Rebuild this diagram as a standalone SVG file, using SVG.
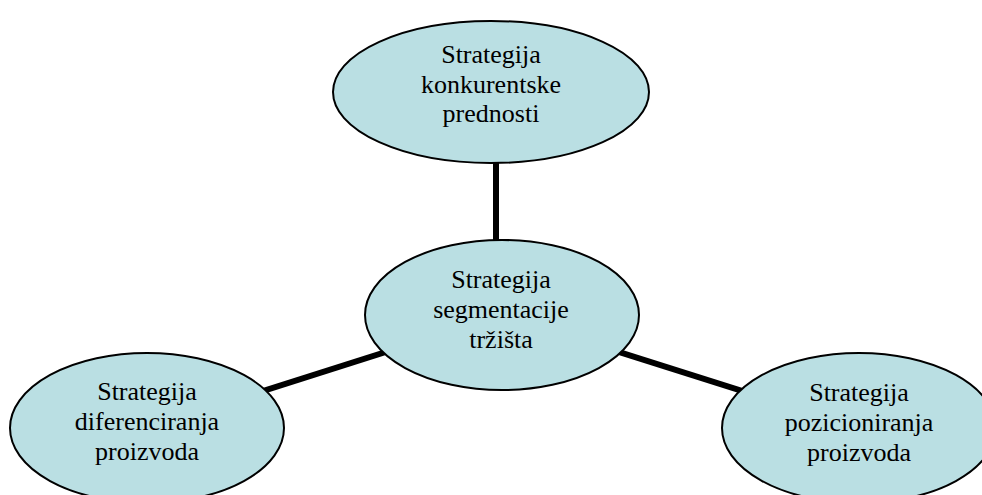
<svg xmlns="http://www.w3.org/2000/svg" width="982" height="495" viewBox="0 0 982 495">
<style>
.n{fill:#BADFE3;stroke:#000;stroke-width:2}
.c{stroke:#000;stroke-width:6;fill:none}
text{font-family:"Liberation Serif","Times New Roman",serif;font-size:26px;fill:#000;text-anchor:middle}
</style>
<rect width="982" height="495" fill="#fff"/>
<g id="connectors">
<line class="c" x1="496" y1="150" x2="496" y2="250"/>
<line class="c" x1="147" y1="428" x2="502" y2="315"/>
<line class="c" x1="502" y1="315" x2="859" y2="428"/>
</g>
<g id="node-top">
<ellipse class="n" cx="491" cy="92" rx="158" ry="71"/>
<text x="491" y="63">Strategija</text>
<text x="491" y="93">konkurentske</text>
<text x="491" y="122">prednosti</text>
</g>
<g id="node-center">
<ellipse class="n" cx="502" cy="315" rx="137" ry="75"/>
<text x="501" y="288">Strategija</text>
<text x="501" y="318">segmentacije</text>
<text x="501" y="348">tržišta</text>
</g>
<g id="node-left">
<ellipse class="n" cx="147" cy="428" rx="137" ry="75"/>
<text x="147" y="400">Strategija</text>
<text x="147" y="430">diferenciranja</text>
<text x="147" y="460">proizvoda</text>
</g>
<g id="node-right">
<ellipse class="n" cx="859" cy="428" rx="137" ry="75"/>
<text x="859" y="401">Strategija</text>
<text x="859" y="431">pozicioniranja</text>
<text x="859" y="461">proizvoda</text>
</g>
</svg>
